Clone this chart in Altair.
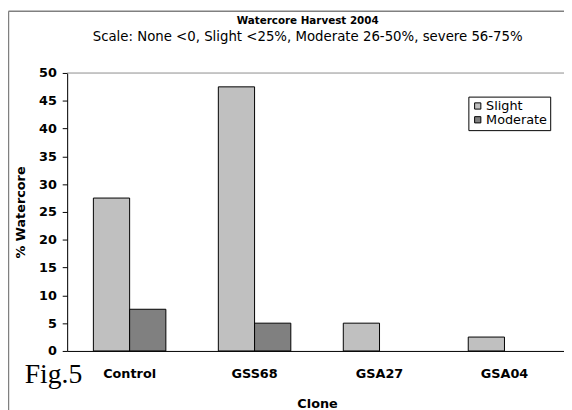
import altair as alt
import pandas as pd

clones = ["Control", "GSS68", "GSA27", "GSA04"]
severities = ["Slight", "Moderate"]
slight = [27.5, 47.5, 5, 2.5]
moderate = [7.5, 5, 0, 0]

rows = []
for c, s, m in zip(clones, slight, moderate):
    rows.append({"Clone": c, "Severity": "Slight", "Value": s})
    rows.append({"Clone": c, "Severity": "Moderate", "Value": m})
df = pd.DataFrame(rows)

W, H = 504, 282
one = alt.Data(values=[{}])

bars = alt.Chart(df).transform_filter("datum.Value > 0").mark_bar(
    stroke="black", strokeWidth=1).encode(
    x=alt.X("Clone:N", sort=clones,
            scale=alt.Scale(range=[0, 507], paddingInner=0.42, paddingOuter=0.21),
            axis=alt.Axis(title="Clone", labelAngle=0, ticks=False, domainColor="black",
                          labelFont="DejaVu Sans", labelFontWeight="bold", labelFontSize=13,
                          labelColor="black", labelPadding=17,
                          titleFont="DejaVu Sans", titleFontWeight="bold", titleFontSize=13,
                          titleColor="black", titlePadding=17)),
    xOffset=alt.XOffset("Severity:N", sort=severities,
                        scale=alt.Scale(domain=severities, paddingInner=0, paddingOuter=0)),
    y=alt.Y("Value:Q", scale=alt.Scale(domain=[0, 50], nice=False),
            axis=alt.Axis(title="% Watercore", values=list(range(0, 55, 5)), grid=False,
                          labelOverlap=False,
                          tickSize=5, tickColor="black", domainColor="black",
                          labelFont="DejaVu Sans", labelFontWeight="bold", labelFontSize=13,
                          labelColor="black", labelPadding=6,
                          titleFont="DejaVu Sans", titleFontWeight="bold", titleFontSize=13,
                          titleColor="black", titlePadding=11)),
    color=alt.Color("Severity:N", sort=severities,
                    scale=alt.Scale(domain=severities, range=["#c0c0c0", "#808080"]),
                    legend=alt.Legend(title=None, orient="none", legendX=407, legendY=24,
                                      strokeColor="black", fillColor="white", padding=3,
                                      symbolType="square", symbolSize=40,
                                      symbolStrokeColor="black", symbolStrokeWidth=1,
                                      labelFont="DejaVu Sans", labelFontSize=13,
                                      labelColor="black", labelOffset=2, rowPadding=0)),
)

top_line = alt.Chart(one).mark_rule(color="#a0a0a0", strokeWidth=1).encode(
    y=alt.value(0), x=alt.value(0), x2=alt.value(520))

fig = alt.Chart(one).mark_text(text="Fig.5", font="Liberation Serif", fontSize=28,
                               align="left", baseline="alphabetic", color="black").encode(
    x=alt.value(-43), y=alt.value(H + 32))

frame_left = alt.Chart(one).mark_rule(color="#808080", strokeWidth=1.5).encode(
    x=alt.value(-59.5), y=alt.value(-62.5), y2=alt.value(H + 60))
frame_top = alt.Chart(one).mark_rule(color="#808080", strokeWidth=1.5).encode(
    y=alt.value(-62.5), x=alt.value(-59.5), x2=alt.value(W + 10))

chart = alt.layer(bars, top_line, fig, frame_left, frame_top).properties(
    width=W, height=H,
    title=alt.TitleParams(
        text="Watercore Harvest 2004",
        subtitle="Scale: None <0, Slight <25%, Moderate 26-50%, severe 56-75%",
        font="DejaVu Sans", fontSize=10.5, fontWeight="bold", color="black",
        subtitleFont="DejaVu Sans", subtitleFontSize=13.5, subtitleColor="black",
        subtitlePadding=3, anchor="middle", dx=-8, offset=-33),
    autosize=alt.AutoSizeParams(type="none"),
    padding={"left": 60, "top": 63, "right": 0, "bottom": 57},
).configure_view(stroke=None).configure(background="white")

chart.save("out.html", embed_options={"renderer": "svg", "actions": False})
